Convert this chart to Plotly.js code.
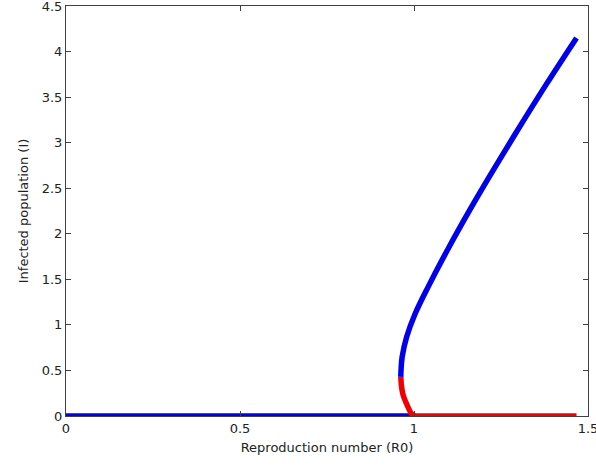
<!DOCTYPE html>
<html>
<head>
<meta charset="utf-8">
<script src="https://cdn.plot.ly/plotly-3.0.1.min.js"></script>
<style>html,body{margin:0;padding:0;background:#fff;}#chart{width:596px;height:467px;}</style>
</head>
<body>
<div id="chart"></div>
<script>
// Disease-free equilibrium, stable part (R0 < 1)
var r0DfeStable = [0, 1.0];
var iDfeStable = [0, 0];
// Disease-free equilibrium, unstable part (R0 > 1)
var r0DfeUnstable = [1.0, 1.467];
var iDfeUnstable = [0, 0];
// Endemic equilibrium, upper (stable) branch
var r0Upper = [0.962, 0.963, 0.966, 0.979, 1.003, 1.041, 1.10, 1.16, 1.22, 1.29, 1.38, 1.467];
var iUpper  = [0.43, 0.52, 0.65, 0.87, 1.12, 1.42, 1.85, 2.26, 2.65, 3.09, 3.64, 4.15];
// Endemic equilibrium, lower (unstable) branch
var r0Lower = [0.962, 0.964, 0.968, 0.979, 0.992, 1.0];
var iLower  = [0.43, 0.33, 0.24, 0.13, 0.03, 0];

var xTicks = [0, 0.5, 1, 1.5];
var yTicks = [0, 0.5, 1, 1.5, 2, 2.5, 3, 3.5, 4, 4.5];

var blue = 'rgb(0,0,235)';
var red = 'rgb(240,0,0)';
var lw = 5.5;

var traces = [
  {x: r0DfeStable, y: iDfeStable, mode: 'lines', line: {color: blue, width: lw}, cliponaxis: false},
  {x: r0Upper, y: iUpper, mode: 'lines', line: {color: blue, width: lw, shape: 'spline', smoothing: 1}, cliponaxis: false},
  {x: r0Lower, y: iLower, mode: 'lines', line: {color: red, width: lw, shape: 'spline', smoothing: 1}, cliponaxis: false},
  {x: r0DfeUnstable, y: iDfeUnstable, mode: 'lines', line: {color: red, width: lw}, cliponaxis: false}
];

var axisCommon = {
  showline: true, mirror: 'ticks', linecolor: '#404040', linewidth: 1,
  ticks: 'inside', ticklen: 5, tickcolor: '#404040', tickwidth: 1,
  showgrid: false, zeroline: false, ticklabeloverflow: 'allow',
  tickfont: {family: 'DejaVu Sans', size: 13, color: '#222'}
};

var layout = {
  width: 596, height: 467,
  margin: {l: 66, r: 8, t: 6, b: 51},
  paper_bgcolor: '#fff', plot_bgcolor: '#fff',
  showlegend: false,
  xaxis: Object.assign({}, axisCommon, {
    range: [0, 1.5], tickmode: 'array', tickvals: xTicks, ticktext: xTicks.map(String),
    title: {text: 'Reproduction number (R0)', font: {family: 'DejaVu Sans', size: 13, color: '#222'}, standoff: 8}
  }),
  yaxis: Object.assign({}, axisCommon, {
    range: [0, 4.5], tickmode: 'array', tickvals: yTicks, ticktext: yTicks.map(String),
    title: {text: 'Infected population (I)', font: {family: 'DejaVu Sans', size: 13, color: '#222'}, standoff: 10}
  })
};

Plotly.newPlot('chart', traces, layout, {displayModeBar: false, staticPlot: true});
</script>
</body>
</html>
